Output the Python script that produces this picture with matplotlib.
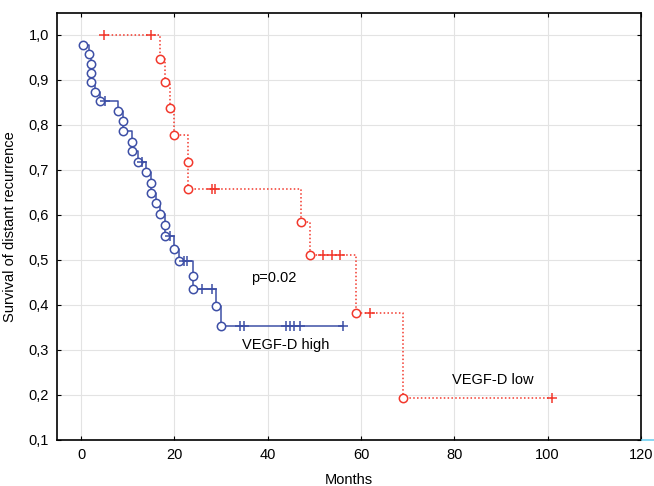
import numpy as np
import matplotlib
matplotlib.use("Agg")
import matplotlib.pyplot as plt
from matplotlib.lines import Line2D

plt.rcParams['font.family'] = ['Liberation Sans', 'DejaVu Sans']

# VEGF-D high: event times (months) and survival after each event
high_event_t = [0.5, 1.6, 2.1, 2.1, 2.1, 2.9, 4.0, 8.0, 8.9, 8.9, 10.9, 10.9, 12.1,
                14.0, 14.9, 14.9, 16.0, 17.0, 18.0, 18.0, 20.0, 21.0, 24.0, 24.0,
                28.9, 30.0]
high_event_s = [0.977, 0.956, 0.935, 0.914, 0.894, 0.872, 0.853, 0.830, 0.808, 0.786,
                0.762, 0.742, 0.718, 0.694, 0.671, 0.649, 0.626, 0.602, 0.577, 0.553,
                0.524, 0.498, 0.465, 0.435, 0.398, 0.354]
high_censor_t = [5.1, 13.0, 19.1, 22.1, 22.8, 26.0, 28.0, 34.1, 35.0, 44.0, 44.8,
                 45.7, 47.0, 56.1]

# VEGF-D low
low_event_t = [17.0, 18.0, 19.0, 20.0, 23.0, 23.0, 47.1, 49.0, 59.0, 69.0]
low_event_s = [0.946, 0.894, 0.837, 0.777, 0.718, 0.657, 0.585, 0.511, 0.383, 0.193]
low_censor_t = [5.0, 15.0, 28.0, 28.8, 51.9, 53.8, 55.6, 62.0, 101.0]

xticks = [0, 20, 40, 60, 80, 100, 120]
yticks = [0.1, 0.2, 0.3, 0.4, 0.5, 0.6, 0.7, 0.8, 0.9, 1.0]
ytick_labels = ["0,1", "0,2", "0,3", "0,4", "0,5", "0,6", "0,7", "0,8", "0,9", "1,0"]

BLUE = '#3d4fa6'
RED = '#f2382c'


def censor_levels(path_t, path_s, cens):
    idx = np.searchsorted(path_t, cens, side='right') - 1
    return np.asarray(path_s)[np.clip(idx, 0, None)]


fig = plt.figure(figsize=(6.54, 4.86), dpi=100)
ax = fig.add_axes([0.0876, 0.0947, 0.8924, 0.8786])

# blue curve (solid)
ht = np.array(high_event_t + [max(high_censor_t)])
hs = np.array(high_event_s + [high_event_s[-1]])
ax.plot(ht, hs, drawstyle='steps-post', color=BLUE, lw=1.1)
ax.plot(high_event_t, high_event_s, 'o', ms=6, mfc='white', mec=BLUE, mew=1.1, ls='none')
ax.plot(high_censor_t, censor_levels(ht, hs, high_censor_t), '+', ms=7, mew=1.1,
        color=BLUE, ls='none')

# red curve (dotted)
lt = np.array([min(low_censor_t)] + low_event_t + [max(low_censor_t)])
ls_ = np.array([1.0] + low_event_s + [low_event_s[-1]])
ax.plot(lt, ls_, drawstyle='steps-post', color=RED, lw=1.1, ls=(0, (1, 1.5)))
ax.plot(low_event_t, low_event_s, 'o', ms=6, mfc='white', mec=RED, mew=1.1, ls='none')
ax.plot(low_censor_t, censor_levels(lt, ls_, low_censor_t), '+', ms=7, mew=1.1,
        color=RED, ls='none')

ax.text(36.5, 0.46, "p=0.02", fontsize=10.5, va='center', ha='left')
ax.text(34.5, 0.311, "VEGF-D high", fontsize=10.5, va='center', ha='left')
ax.text(79.4, 0.233, "VEGF-D low", fontsize=10.5, va='center', ha='left')

ax.set_xlim(-5.1, 120)
ax.set_ylim(0.1, 1.048)
ax.set_xticks(xticks)
ax.set_yticks(yticks)
ax.set_yticklabels(ytick_labels)
ax.tick_params(direction='in', length=3, top=True, right=True, labelsize=10.5, pad=6)
ax.grid(True, color='#e3e3e3', lw=0.8)
ax.set_axisbelow(True)
for sp in ax.spines.values():
    sp.set_linewidth(1.2)

ax.set_xlabel("Months", fontsize=10.5, labelpad=8)
ax.set_ylabel("Survival of distant recurrence", fontsize=10.5, labelpad=8)

# small cyan stroke at bottom right edge
fig.add_artist(Line2D([0.981, 1.0], [0.0947, 0.0947], color='#6fd0f0', lw=1.2))

fig.savefig("out.png", dpi=100)
